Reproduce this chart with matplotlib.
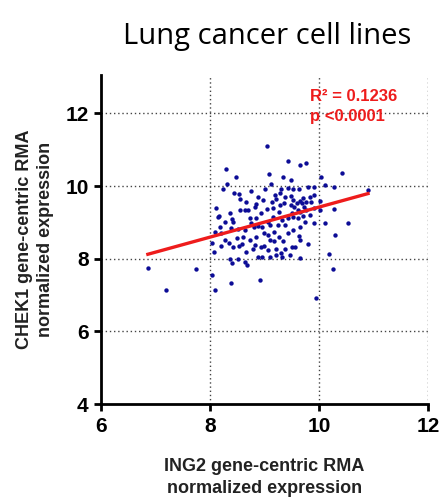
import numpy as np
import matplotlib
matplotlib.use("Agg")
import matplotlib.pyplot as plt

# ING2 (x) vs CHEK1 (y)
ing2 = [6.86, 7.20, 7.74, 8.03, 8.09, 8.38, 8.92, 9.95, 10.26, 10.18,
        10.54, 10.30, 10.42, 10.90, 10.27, 10.12, 10.03, 9.77, 9.65, 9.43,
        9.04, 8.29, 8.47, 8.32, 8.24, 9.09, 9.34, 9.48, 9.12, 9.01,
        9.30, 9.43, 9.52, 9.63, 9.79, 9.90, 8.75, 8.44, 8.54, 8.55,
        8.11, 8.17, 8.15, 8.41, 8.43, 8.56, 8.65, 8.74, 8.83, 8.85,
        8.94, 9.04, 9.16, 9.21, 9.29, 9.35, 9.37, 9.48, 9.52, 9.59,
        9.65, 9.71, 9.77, 9.85, 10.01, 9.90, 10.02, 10.27, 9.71, 9.65,
        9.51, 9.90, 10.12, 8.09, 8.21, 8.38, 8.52, 8.65, 8.80, 8.89,
        8.99, 9.10, 9.24, 9.33, 9.38, 8.03, 8.08, 8.21, 8.34, 8.43,
        8.54, 8.59, 8.73, 8.83, 8.93, 9.10, 9.18, 9.27, 9.34, 9.22,
        9.07, 8.99, 9.51, 9.56, 9.38, 9.65, 9.63, 9.80, 9.33, 9.31,
        8.88, 8.95, 9.65, 8.79, 8.37, 8.41, 8.65, 8.68, 8.51, 9.49,
        9.55, 9.62, 9.68, 9.73, 9.52, 9.62, 9.43, 9.27, 9.16, 9.07,
        8.95, 8.85, 8.76, 8.70, 8.37, 8.27, 8.18, 9.83, 9.91, 9.19,
        9.28, 8.97, 8.88, 8.67, 9.13, 9.77, 9.83, 9.43, 9.52, 9.65,
        9.74, 9.18, 9.07, 8.85, 8.61, 8.49, 8.27, 8.67, 9.10, 9.22,
        9.46]
chek1 = [7.75, 7.14, 7.72, 7.55, 7.14, 7.32, 7.42, 6.93, 7.72, 8.13,
         8.99, 8.65, 10.37, 9.90, 9.98, 10.02, 10.24, 10.63, 10.59, 10.70,
         11.11, 10.47, 10.26, 10.06, 9.91, 10.34, 10.24, 10.17, 10.06, 9.93,
         9.93, 9.95, 9.93, 9.93, 9.96, 9.96, 9.87, 9.82, 9.77, 9.63,
         9.39, 9.18, 9.15, 9.08, 9.01, 9.35, 9.35, 9.12, 9.43, 9.50,
         9.25, 9.36, 9.40, 9.64, 9.48, 9.54, 9.71, 9.72, 9.61, 9.52,
         9.60, 9.66, 9.57, 9.55, 9.58, 9.39, 9.34, 9.38, 9.18, 9.29,
         9.27, 8.97, 8.98, 8.74, 8.70, 8.84, 8.81, 8.78, 8.86, 8.91,
         8.70, 8.93, 8.94, 9.06, 8.92, 8.42, 8.19, 8.35, 8.44, 8.33,
         8.36, 8.40, 8.51, 8.38, 8.33, 8.51, 8.48, 8.61, 8.50, 8.26,
         8.24, 8.35, 8.33, 8.33, 8.27, 8.51, 8.62, 8.40, 8.06, 8.15,
         8.06, 8.06, 8.03, 8.27, 8.00, 7.87, 7.92, 7.83, 7.98, 9.48,
         9.41, 9.34, 9.52, 9.43, 9.16, 9.11, 9.11, 9.29, 9.16, 9.02,
         8.88, 9.11, 8.97, 9.34, 9.25, 9.02, 8.88, 9.71, 9.75, 9.75,
         9.82, 9.61, 9.71, 9.57, 9.56, 9.34, 9.20, 8.70, 8.79, 8.88,
         9.02, 8.74, 8.65, 8.61, 8.61, 8.56, 8.51, 8.19, 8.06, 8.10,
         8.10]

# regression line
slope = 0.413
intercept = 5.29
r2_text = "R² = 0.1236"
p_text = "p <0.0001"

xticks = [6, 8, 10, 12]
yticks = [4, 6, 8, 10, 12]

fig = plt.figure(figsize=(4.43, 5.04), dpi=100)
ax = fig.add_axes([0.228, 0.198, 0.738, 0.653])

ax.scatter(ing2, chek1, s=10, color='#0c0c96', zorder=3, linewidths=0)

fx = np.array([min(ing2), max(ing2)])
ax.plot(fx, slope * fx + intercept, color='#ee1c1c', linewidth=2.4, zorder=4)

ax.set_xlim(6, 12)
ax.set_ylim(4, 13.05)
ax.set_xticks(xticks)
ax.set_yticks(yticks)
for v in xticks[1:]:
    ax.axvline(v, color='#444444', linestyle=(0, (1, 2)), linewidth=1, zorder=1)
for v in yticks[1:]:
    ax.axhline(v, color='#444444', linestyle=(0, (1, 2)), linewidth=1, zorder=1)

for s in ['top', 'right']:
    ax.spines[s].set_visible(False)
for s in ['left', 'bottom']:
    ax.spines[s].set_linewidth(2)
ax.tick_params(direction='out', length=5, width=2, labelsize=15, pad=4)
for lab in ax.get_xticklabels() + ax.get_yticklabels():
    lab.set_fontweight('bold')
    lab.set_family('Liberation Sans')

ax.set_xlabel('ING2 gene-centric RMA\nnormalized expression', fontsize=13,
              fontweight='bold', family='Liberation Sans', color='#222222',
              labelpad=16, linespacing=1.4)
ax.set_ylabel('CHEK1 gene-centric RMA\nnormalized expression', fontsize=13,
              fontweight='bold', family='Liberation Sans', color='#222222',
              labelpad=8, linespacing=1.3)

ax.text(9.83, 12.68, r2_text + '\n' + p_text, color='#ee1c1c', fontsize=12,
        fontweight='bold', family='Liberation Sans', ha='left', va='top',
        linespacing=1.45, zorder=5)

fig.text(0.603, 0.928, 'Lung cancer cell lines', fontsize=21, family='Open Sans',
         ha='center', va='center')

fig.savefig('out.png', dpi=100)
